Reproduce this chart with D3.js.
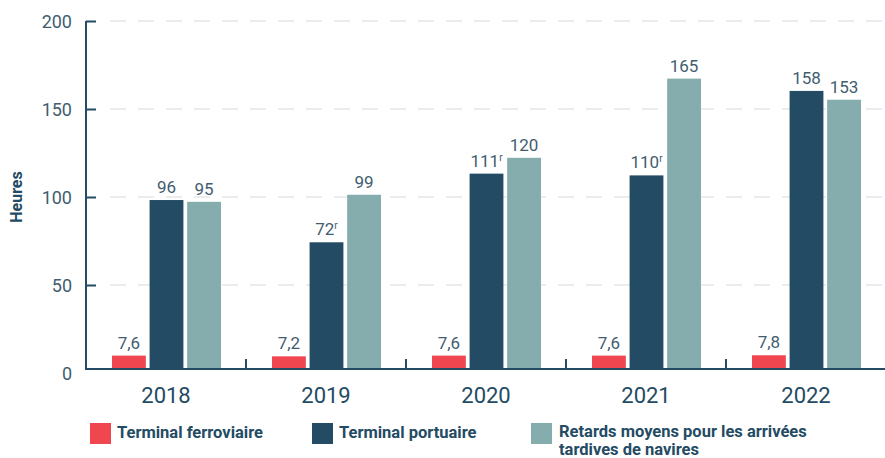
<!DOCTYPE html>
<html>
<head>
<meta charset="utf-8">
<script src="https://cdn.jsdelivr.net/npm/d3@7"></script>
<style>
  body { margin: 0; background: #fff; }
  svg { display: block; font-family: Roboto, "Noto Sans", sans-serif; }
</style>
</head>
<body>
<div id="chart"></div>
<script>
// data
let years = ["2018", "2019", "2020", "2021", "2022"];
let ferroviaire = [7.6, 7.2, 7.6, 7.6, 7.8];
let portuaire = [96, 72, 111, 110, 158];
let retards = [95, 99, 120, 165, 153];
let revised = [false, true, true, true, false]; // "r" mark on port values
let yTicks = [0, 50, 100, 150, 200];

let seriesNames = ["Terminal ferroviaire", "Terminal portuaire", "Retards moyens pour les arrivées tardives de navires"];
let colors = ["#ef464f", "#234b63", "#86adad"];

let width = 885, height = 458;
let ink = "#234b63", soft = "#3f5d6f";

let svg = d3.select("#chart").append("svg")
  .attr("width", width)
  .attr("height", height);

// scales
let x0 = d3.scaleBand().domain(years).range([86, 886]);
let x1 = d3.scaleBand().domain([0, 1, 2]).range([26, 135]).paddingInner(0.1);
let y = d3.scaleLinear().domain([0, 200]).range([369, 17]);

// gridlines (ticks sit a few px lower than the bar baseline in the original)
let grid = svg.append("g").attr("transform", "translate(0,4)");
grid.selectAll("line").data(yTicks.filter(d => d > 0)).enter().append("line")
  .attr("x1", 110).attr("x2", width)
  .attr("y1", d => y(d)).attr("y2", d => y(d))
  .attr("stroke", "#e4e7e9").attr("stroke-width", 1.5)
  .attr("stroke-dasharray", "16,12");

// y axis
let yAxis = svg.append("g")
  .attr("transform", "translate(86,4)")
  .call(d3.axisLeft(y).tickValues(yTicks).tickSize(-10).tickPadding(24));
yAxis.select(".domain").remove();
yAxis.selectAll(".tick line").attr("stroke", ink).attr("stroke-width", 2)
  .attr("opacity", d => d === 0 ? 0 : 1);
yAxis.selectAll(".tick text")
  .attr("fill", soft).attr("font-size", 18)
  .attr("font-family", "Roboto, sans-serif")
  .attr("x", -14).attr("dy", "0.36em");

svg.append("line")
  .attr("x1", 86).attr("x2", 86)
  .attr("y1", y(200) + 4).attr("y2", y(0) + 1)
  .attr("stroke", ink).attr("stroke-width", 2);

svg.append("text")
  .attr("transform", "translate(22," + (y(100) + 4) + ") rotate(-90)")
  .attr("text-anchor", "middle")
  .attr("font-size", 16).attr("font-weight", 700)
  .attr("fill", ink)
  .text("Heures");

// bars
let rows = years.map((yr, i) => ({
  year: yr,
  vals: [
    { k: 0, v: ferroviaire[i], label: String(ferroviaire[i]).replace(".", ","), r: false },
    { k: 1, v: portuaire[i], label: String(portuaire[i]), r: revised[i] },
    { k: 2, v: retards[i], label: String(retards[i]), r: false }
  ]
}));

let groups = svg.selectAll("g.year").data(rows).enter().append("g")
  .attr("class", "year")
  .attr("transform", d => "translate(" + x0(d.year) + ",0)");

groups.selectAll("rect").data(d => d.vals).enter().append("rect")
  .attr("x", d => x1(d.k))
  .attr("width", x1.bandwidth())
  .attr("y", d => y(d.v))
  .attr("height", d => y(0) - y(d.v))
  .attr("fill", d => colors[d.k]);

let labels = groups.selectAll("text.val").data(d => d.vals).enter().append("text")
  .attr("class", "val")
  .attr("x", d => x1(d.k) + x1.bandwidth() / 2)
  .attr("y", d => y(d.v) - 7)
  .attr("text-anchor", "middle")
  .attr("font-size", 17)
  .attr("fill", soft);
labels.append("tspan").text(d => d.label);
labels.filter(d => d.r).append("tspan")
  .attr("font-size", 10).attr("dy", "-0.6em")
  .text("r");

// x axis
let xAxis = svg.append("g")
  .attr("transform", "translate(0,369)");
xAxis.append("line")
  .attr("x1", 85).attr("x2", width)
  .attr("stroke", ink).attr("stroke-width", 2);
xAxis.selectAll("line.tk").data(years.slice(1)).enter().append("line")
  .attr("class", "tk")
  .attr("x1", d => x0(d)).attr("x2", d => x0(d))
  .attr("y1", 0).attr("y2", -10)
  .attr("stroke", ink).attr("stroke-width", 2);
xAxis.selectAll("text").data(years).enter().append("text")
  .attr("x", d => x0(d) + x0.bandwidth() / 2)
  .attr("y", 34)
  .attr("text-anchor", "middle")
  .attr("font-size", 22)
  .attr("fill", ink)
  .text(d => d);

// legend
let legendX = [90, 312, 531];
let legend = svg.selectAll("g.leg").data(seriesNames).enter().append("g")
  .attr("class", "leg")
  .attr("transform", (d, i) => "translate(" + legendX[i] + ",423)");
legend.append("rect")
  .attr("width", 21).attr("height", 21)
  .attr("fill", (d, i) => colors[i]);
let legText = legend.append("text")
  .attr("x", (d, i) => i === 2 ? 28 : 27)
  .attr("y", 15)
  .attr("font-size", 16.5).attr("font-weight", 700)
  .attr("fill", ink);
legText.each(function(d, i) {
  let t = d3.select(this);
  if (i === 2) {
    t.append("tspan").attr("x", 28).attr("dy", -1).text("Retards moyens pour les arrivées");
    t.append("tspan").attr("x", 28).attr("dy", 17.5).text("tardives de navires");
  } else {
    t.text(d);
  }
});
</script>
</body>
</html>
